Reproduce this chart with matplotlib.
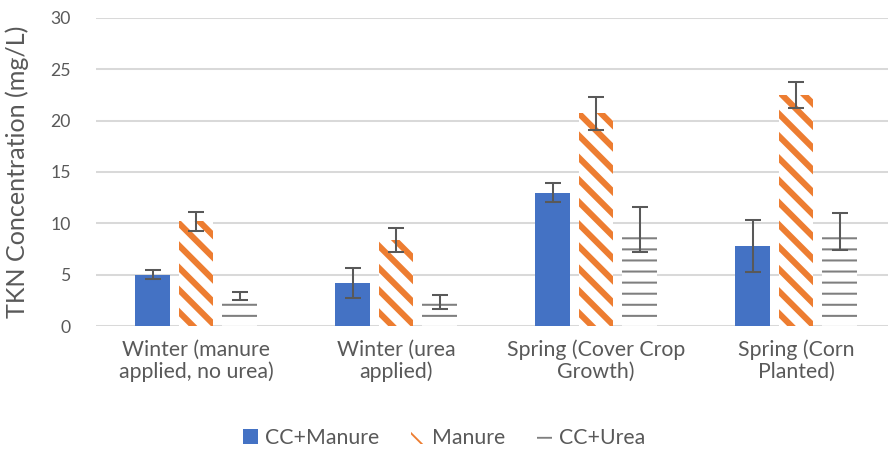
import numpy as np
import matplotlib
matplotlib.use('Agg')
import matplotlib.pyplot as plt
from matplotlib.patches import Patch

# TKN concentration by season and treatment
seasons = ['Winter (manure\napplied, no urea)', 'Winter (urea\napplied)',
           'Spring (Cover Crop\nGrowth)', 'Spring (Corn\nPlanted)']
cc_manure = [5.0, 4.2, 13.0, 7.8]
cc_manure_err = [0.45, 1.45, 0.9, 2.5]
manure = [10.2, 8.35, 20.7, 22.5]
manure_err = [0.9, 1.15, 1.6, 1.3]
cc_urea = [2.9, 2.35, 9.4, 9.25]
cc_urea_err = [0.4, 0.65, 2.2, 1.8]

DPI = 888 / 6.66
plt.rcParams['font.family'] = ['Lato', 'DejaVu Sans']
text_col = '#595959'
blue = '#4472C4'
orange = '#ED7D31'
gray = '#7F7F7F'

fig = plt.figure(figsize=(6.66, 3.375), dpi=DPI)
ax = fig.add_axes([96 / 888, 1 - 326 / 450, 800 / 888, 308 / 450])

x = np.arange(len(seasons))
w = 0.1725
off = 0.2175

ax.bar(x - off, cc_manure, w, color=blue, zorder=2)

with plt.rc_context({'hatch.linewidth': 3.3}):
    b2 = ax.bar(x, manure, w, facecolor='white', edgecolor=orange,
                linewidth=0, hatch='\\\\', zorder=2)
for p in b2:
    if hasattr(p, 'set_hatch_linewidth'):
        p.set_hatch_linewidth(3.3)

with plt.rc_context({'hatch.linewidth': 1.1}):
    b3 = ax.bar(x + off, cc_urea, w, facecolor='white', edgecolor=gray,
                linewidth=0, hatch='--', zorder=2)
for p in b3:
    if hasattr(p, 'set_hatch_linewidth'):
        p.set_hatch_linewidth(1.1)

for pos, vals, errs in [(x - off, cc_manure, cc_manure_err),
                        (x, manure, manure_err),
                        (x + off, cc_urea, cc_urea_err)]:
    ax.errorbar(pos, vals, yerr=errs, fmt='none', ecolor=text_col,
                elinewidth=1.1, capsize=4.3, capthick=1.1, zorder=3)

ax.set_xlim(-0.5, 3.5)
ax.set_ylim(0, 30)
ax.set_yticks(range(0, 31, 5))
ax.yaxis.grid(True, color='#D9D9D9', linewidth=1.1, zorder=0)
ax.set_axisbelow(True)
for s in ax.spines.values():
    s.set_visible(False)
ax.tick_params(axis='both', length=0, colors=text_col)
ax.tick_params(axis='y', pad=13.5, labelsize=9.5)
ax.tick_params(axis='x', pad=7.5, labelsize=11.5)
ax.set_xticks(x)
ax.set_xticklabels(seasons, linespacing=1.1)
ax.set_ylabel('TKN Concentration (mg/L)', fontsize=13.6, color=text_col)
ax.yaxis.set_label_coords(-0.084, 0.5)

handles = [Patch(facecolor=blue),
           Patch(facecolor='white', edgecolor=orange, linewidth=0, hatch='\\\\'),
           Patch(facecolor='white', edgecolor=gray, linewidth=0, hatch='--')]
fig.legend(handles, ['CC+Manure', 'Manure', 'CC+Urea'], loc='center',
           bbox_to_anchor=(0.5, 1 - 438 / 450), ncol=3, frameon=False,
           fontsize=11.5, labelcolor=text_col, handlelength=0.7,
           handleheight=0.7, handletextpad=0.3, columnspacing=1.5)

fig.savefig('out.png', dpi=DPI)
